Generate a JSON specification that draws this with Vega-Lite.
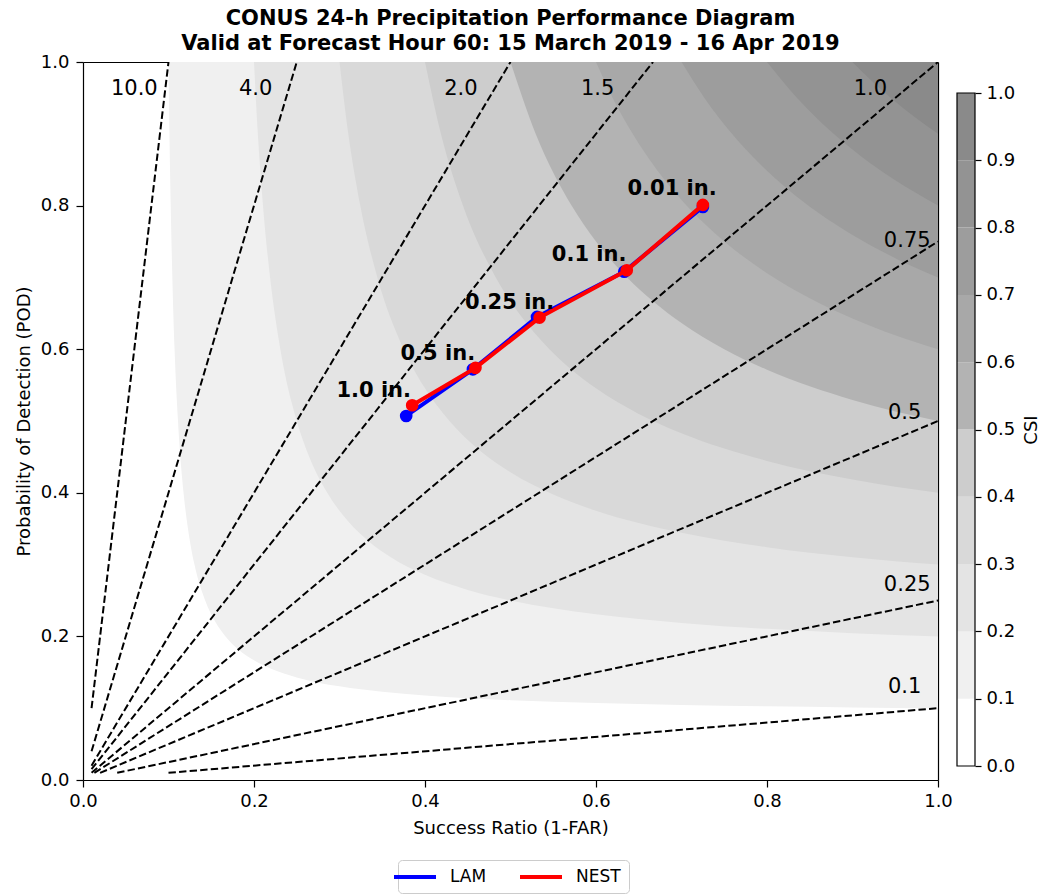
{
  "$schema": "https://vega.github.io/schema/vega-lite/v6.json",
  "background": "white",
  "padding": {"left": 15, "top": 8, "right": 5, "bottom": 0},
  "bounds": "flush",
  "spacing": 19,
  "config": {
    "font": "DejaVu Sans",
    "view": {"stroke": null},
    "axis": {
      "grid": false,
      "labelColor": "black",
      "titleColor": "black",
      "tickColor": "black",
      "domainColor": "black",
      "labelFontSize": 18,
      "titleFontSize": 18,
      "titleFontWeight": "normal",
      "labelFont": "DejaVu Sans",
      "titleFont": "DejaVu Sans",
      "tickSize": 7,
      "tickWidth": 1.2,
      "domainWidth": 1.2,
      "labelFlush": false,
      "labelOverlap": false,
      "zindex": 1
    }
  },
  "datasets": {
    "contours": [
      {"level": 0.1, "sr": 0.1, "pod": 1},
      {"level": 0.1, "sr": 0.1011, "pod": 0.9},
      {"level": 0.1, "sr": 0.1026, "pod": 0.8},
      {"level": 0.1, "sr": 0.1045, "pod": 0.7},
      {"level": 0.1, "sr": 0.1071, "pod": 0.6},
      {"level": 0.1, "sr": 0.1111, "pod": 0.5},
      {"level": 0.1, "sr": 0.1176, "pod": 0.4},
      {"level": 0.1, "sr": 0.1228, "pod": 0.35},
      {"level": 0.1, "sr": 0.1304, "pod": 0.3},
      {"level": 0.1, "sr": 0.1429, "pod": 0.25},
      {"level": 0.1, "sr": 0.1549, "pod": 0.22},
      {"level": 0.1, "sr": 0.1667, "pod": 0.2},
      {"level": 0.1, "sr": 0.1818, "pod": 0.1818},
      {"level": 0.1, "sr": 0.2, "pod": 0.1667},
      {"level": 0.1, "sr": 0.22, "pod": 0.1549},
      {"level": 0.1, "sr": 0.25, "pod": 0.1429},
      {"level": 0.1, "sr": 0.3, "pod": 0.1304},
      {"level": 0.1, "sr": 0.35, "pod": 0.1228},
      {"level": 0.1, "sr": 0.4, "pod": 0.1176},
      {"level": 0.1, "sr": 0.5, "pod": 0.1111},
      {"level": 0.1, "sr": 0.6, "pod": 0.1071},
      {"level": 0.1, "sr": 0.7, "pod": 0.1045},
      {"level": 0.1, "sr": 0.8, "pod": 0.1026},
      {"level": 0.1, "sr": 0.9, "pod": 0.1011},
      {"level": 0.1, "sr": 1, "pod": 0.1},
      {"level": 0.2, "sr": 0.2, "pod": 1},
      {"level": 0.2, "sr": 0.2045, "pod": 0.9},
      {"level": 0.2, "sr": 0.2105, "pod": 0.8},
      {"level": 0.2, "sr": 0.2188, "pod": 0.7},
      {"level": 0.2, "sr": 0.2308, "pod": 0.6},
      {"level": 0.2, "sr": 0.25, "pod": 0.5},
      {"level": 0.2, "sr": 0.2647, "pod": 0.45},
      {"level": 0.2, "sr": 0.2857, "pod": 0.4},
      {"level": 0.2, "sr": 0.3103, "pod": 0.36},
      {"level": 0.2, "sr": 0.3333, "pod": 0.3333},
      {"level": 0.2, "sr": 0.36, "pod": 0.3103},
      {"level": 0.2, "sr": 0.4, "pod": 0.2857},
      {"level": 0.2, "sr": 0.45, "pod": 0.2647},
      {"level": 0.2, "sr": 0.5, "pod": 0.25},
      {"level": 0.2, "sr": 0.6, "pod": 0.2308},
      {"level": 0.2, "sr": 0.7, "pod": 0.2188},
      {"level": 0.2, "sr": 0.8, "pod": 0.2105},
      {"level": 0.2, "sr": 0.9, "pod": 0.2045},
      {"level": 0.2, "sr": 1, "pod": 0.2},
      {"level": 0.3, "sr": 0.3, "pod": 1},
      {"level": 0.3, "sr": 0.3103, "pod": 0.9},
      {"level": 0.3, "sr": 0.3243, "pod": 0.8},
      {"level": 0.3, "sr": 0.3443, "pod": 0.7},
      {"level": 0.3, "sr": 0.375, "pod": 0.6},
      {"level": 0.3, "sr": 0.3976, "pod": 0.55},
      {"level": 0.3, "sr": 0.4286, "pod": 0.5},
      {"level": 0.3, "sr": 0.4615, "pod": 0.4615},
      {"level": 0.3, "sr": 0.5, "pod": 0.4286},
      {"level": 0.3, "sr": 0.55, "pod": 0.3976},
      {"level": 0.3, "sr": 0.6, "pod": 0.375},
      {"level": 0.3, "sr": 0.7, "pod": 0.3443},
      {"level": 0.3, "sr": 0.8, "pod": 0.3243},
      {"level": 0.3, "sr": 0.9, "pod": 0.3103},
      {"level": 0.3, "sr": 1, "pod": 0.3},
      {"level": 0.4, "sr": 0.4, "pod": 1},
      {"level": 0.4, "sr": 0.4186, "pod": 0.9},
      {"level": 0.4, "sr": 0.4444, "pod": 0.8},
      {"level": 0.4, "sr": 0.4828, "pod": 0.7},
      {"level": 0.4, "sr": 0.5098, "pod": 0.65},
      {"level": 0.4, "sr": 0.5455, "pod": 0.6},
      {"level": 0.4, "sr": 0.5714, "pod": 0.5714},
      {"level": 0.4, "sr": 0.6, "pod": 0.5455},
      {"level": 0.4, "sr": 0.65, "pod": 0.5098},
      {"level": 0.4, "sr": 0.7, "pod": 0.4828},
      {"level": 0.4, "sr": 0.8, "pod": 0.4444},
      {"level": 0.4, "sr": 0.9, "pod": 0.4186},
      {"level": 0.4, "sr": 1, "pod": 0.4},
      {"level": 0.5, "sr": 0.5, "pod": 1},
      {"level": 0.5, "sr": 0.5294, "pod": 0.9},
      {"level": 0.5, "sr": 0.5714, "pod": 0.8},
      {"level": 0.5, "sr": 0.6, "pod": 0.75},
      {"level": 0.5, "sr": 0.6364, "pod": 0.7},
      {"level": 0.5, "sr": 0.6667, "pod": 0.6667},
      {"level": 0.5, "sr": 0.7, "pod": 0.6364},
      {"level": 0.5, "sr": 0.75, "pod": 0.6},
      {"level": 0.5, "sr": 0.8, "pod": 0.5714},
      {"level": 0.5, "sr": 0.9, "pod": 0.5294},
      {"level": 0.5, "sr": 1, "pod": 0.5},
      {"level": 0.6, "sr": 0.6, "pod": 1},
      {"level": 0.6, "sr": 0.6195, "pod": 0.95},
      {"level": 0.6, "sr": 0.6429, "pod": 0.9},
      {"level": 0.6, "sr": 0.6711, "pod": 0.85},
      {"level": 0.6, "sr": 0.7059, "pod": 0.8},
      {"level": 0.6, "sr": 0.75, "pod": 0.75},
      {"level": 0.6, "sr": 0.8, "pod": 0.7059},
      {"level": 0.6, "sr": 0.85, "pod": 0.6711},
      {"level": 0.6, "sr": 0.9, "pod": 0.6429},
      {"level": 0.6, "sr": 0.95, "pod": 0.6195},
      {"level": 0.6, "sr": 1, "pod": 0.6},
      {"level": 0.7, "sr": 0.7, "pod": 1},
      {"level": 0.7, "sr": 0.7268, "pod": 0.95},
      {"level": 0.7, "sr": 0.759, "pod": 0.9},
      {"level": 0.7, "sr": 0.79, "pod": 0.86},
      {"level": 0.7, "sr": 0.8235, "pod": 0.8235},
      {"level": 0.7, "sr": 0.86, "pod": 0.79},
      {"level": 0.7, "sr": 0.9, "pod": 0.759},
      {"level": 0.7, "sr": 0.95, "pod": 0.7268},
      {"level": 0.7, "sr": 1, "pod": 0.7},
      {"level": 0.8, "sr": 0.8, "pod": 1},
      {"level": 0.8, "sr": 0.8352, "pod": 0.95},
      {"level": 0.8, "sr": 0.8598, "pod": 0.92},
      {"level": 0.8, "sr": 0.8889, "pod": 0.8889},
      {"level": 0.8, "sr": 0.92, "pod": 0.8598},
      {"level": 0.8, "sr": 0.95, "pod": 0.8352},
      {"level": 0.8, "sr": 1, "pod": 0.8},
      {"level": 0.9, "sr": 0.9, "pod": 1},
      {"level": 0.9, "sr": 0.9257, "pod": 0.97},
      {"level": 0.9, "sr": 0.9474, "pod": 0.9474},
      {"level": 0.9, "sr": 0.97, "pod": 0.9257},
      {"level": 0.9, "sr": 1, "pod": 0.9}
    ],
    "bias": [
      {"bias": 10, "sr": 0.01, "pod": 0.1},
      {"bias": 10, "sr": 0.1, "pod": 1},
      {"bias": 4, "sr": 0.01, "pod": 0.04},
      {"bias": 4, "sr": 0.25, "pod": 1},
      {"bias": 2, "sr": 0.01, "pod": 0.02},
      {"bias": 2, "sr": 0.5, "pod": 1},
      {"bias": 1.5, "sr": 0.01, "pod": 0.015},
      {"bias": 1.5, "sr": 0.6667, "pod": 1},
      {"bias": 1, "sr": 0.01, "pod": 0.01},
      {"bias": 1, "sr": 1, "pod": 1},
      {"bias": 0.75, "sr": 0.0133, "pod": 0.01},
      {"bias": 0.75, "sr": 1, "pod": 0.75},
      {"bias": 0.5, "sr": 0.02, "pod": 0.01},
      {"bias": 0.5, "sr": 1, "pod": 0.5},
      {"bias": 0.25, "sr": 0.04, "pod": 0.01},
      {"bias": 0.25, "sr": 1, "pod": 0.25},
      {"bias": 0.1, "sr": 0.1, "pod": 0.01},
      {"bias": 0.1, "sr": 1, "pod": 0.1}
    ],
    "biasLabels": [
      {"label": "10.0", "sr": 0.06, "pod": 0.962},
      {"label": "4.0", "sr": 0.202, "pod": 0.962},
      {"label": "2.0", "sr": 0.442, "pod": 0.962},
      {"label": "1.5", "sr": 0.602, "pod": 0.962},
      {"label": "1.0", "sr": 0.921, "pod": 0.962},
      {"label": "0.75", "sr": 0.964, "pod": 0.751},
      {"label": "0.5", "sr": 0.961, "pod": 0.511},
      {"label": "0.25", "sr": 0.964, "pod": 0.272},
      {"label": "0.1", "sr": 0.961, "pod": 0.13}
    ],
    "scores": [
      {"model": "LAM", "thresh": "1.0 in.", "sr": 0.378, "pod": 0.507},
      {"model": "LAM", "thresh": "0.5 in.", "sr": 0.456, "pod": 0.572},
      {"model": "LAM", "thresh": "0.25 in.", "sr": 0.531, "pod": 0.645},
      {"model": "LAM", "thresh": "0.1 in.", "sr": 0.633, "pod": 0.708},
      {"model": "LAM", "thresh": "0.01 in.", "sr": 0.725, "pod": 0.798},
      {"model": "NEST", "thresh": "1.0 in.", "sr": 0.385, "pod": 0.522},
      {"model": "NEST", "thresh": "0.5 in.", "sr": 0.459, "pod": 0.574},
      {"model": "NEST", "thresh": "0.25 in.", "sr": 0.534, "pod": 0.644},
      {"model": "NEST", "thresh": "0.1 in.", "sr": 0.636, "pod": 0.71},
      {"model": "NEST", "thresh": "0.01 in.", "sr": 0.725, "pod": 0.801}
    ],
    "threshLabels": [
      {"label": "1.0 in.", "sr": 0.34, "pod": 0.542},
      {"label": "0.5 in.", "sr": 0.415, "pod": 0.594},
      {"label": "0.25 in.", "sr": 0.499, "pod": 0.664},
      {"label": "0.1 in.", "sr": 0.592, "pod": 0.731},
      {"label": "0.01 in.", "sr": 0.689, "pod": 0.823}
    ],
    "bands": [
      {"lo": 0, "hi": 0.1},
      {"lo": 0.1, "hi": 0.2},
      {"lo": 0.2, "hi": 0.3},
      {"lo": 0.3, "hi": 0.4},
      {"lo": 0.4, "hi": 0.5},
      {"lo": 0.5, "hi": 0.6},
      {"lo": 0.6, "hi": 0.7},
      {"lo": 0.7, "hi": 0.8},
      {"lo": 0.8, "hi": 0.9},
      {"lo": 0.9, "hi": 1.0}
    ]
  },
  "hconcat": [
    {
      "width": 855,
      "height": 718,
      "title": {
        "text": ["CONUS 24-h Precipitation Performance Diagram", "Valid at Forecast Hour 60: 15 March 2019 - 16 Apr 2019"],
        "font": "DejaVu Sans",
        "fontSize": 21,
        "fontWeight": "bold",
        "lineHeight": 25,
        "color": "black",
        "anchor": "middle",
        "offset": -1
      },
      "layer": [
        {
          "data": {"name": "contours"},
          "mark": {"type": "area", "interpolate": "monotone", "clip": true},
          "encoding": {
            "x": {"field": "sr", "type": "quantitative", "scale": {"domain": [0, 1], "nice": false, "zero": false},
                  "axis": {"orient": "bottom", "values": [0, 0.2, 0.4, 0.6, 0.8, 1.0], "format": ".1f", "title": "Success Ratio (1-FAR)", "labelPadding": 5, "titlePadding": 9}},
            "y": {"field": "pod", "type": "quantitative", "stack": null, "scale": {"domain": [0, 1], "nice": false, "zero": false},
                  "axis": {"orient": "left", "values": [0, 0.2, 0.4, 0.6, 0.8, 1.0], "format": ".1f", "title": "Probability of Detection (POD)", "labelPadding": 7, "titlePadding": 7}},
            "y2": {"datum": 1},
            "fill": {"field": "level", "type": "ordinal",
                     "scale": {"domain": [0.1, 0.2, 0.3, 0.4, 0.5, 0.6, 0.7, 0.8, 0.9],
                               "range": ["#f0f0f0", "#e4e4e4", "#d9d9d9", "#cdcdcd", "#b3b3b3", "#a8a8a8", "#9d9d9d", "#939393", "#8a8a8a"]},
                     "legend": null}
          }
        },
        {
          "data": {"name": "bias"},
          "mark": {"type": "line", "color": "black", "strokeWidth": 2, "strokeDash": [7.4, 3.2], "clip": true},
          "encoding": {
            "x": {"field": "sr", "type": "quantitative", "axis": null},
            "y": {"field": "pod", "type": "quantitative", "axis": null},
            "detail": {"field": "bias", "type": "nominal"}
          }
        },
        {
          "data": {"name": "biasLabels"},
          "mark": {"type": "text", "fontSize": 21, "font": "DejaVu Sans", "color": "black", "align": "center", "baseline": "middle"},
          "encoding": {
            "x": {"field": "sr", "type": "quantitative", "axis": null},
            "y": {"field": "pod", "type": "quantitative", "axis": null},
            "text": {"field": "label", "type": "nominal"}
          }
        },
        {
          "data": {"name": "scores"},
          "transform": [{"filter": "datum.model === 'LAM'"}],
          "mark": {"type": "line", "strokeWidth": 4},
          "encoding": {
            "x": {"field": "sr", "type": "quantitative", "axis": null},
            "y": {"field": "pod", "type": "quantitative", "axis": null},
            "order": {"field": "sr", "type": "quantitative"},
            "color": {"field": "model", "type": "nominal",
                      "scale": {"domain": ["LAM", "NEST"], "range": ["#0000ff", "#ff0000"]},
                      "legend": {"title": null, "orient": "none", "legendX": 315, "legendY": 798, "direction": "horizontal",
                                 "symbolType": "M-3,0H3", "symbolStrokeWidth": 4, "symbolSize": 196,
                                 "labelFontSize": 17, "labelFont": "DejaVu Sans", "labelColor": "black", "labelOffset": 26,
                                 "columnPadding": 25, "padding": 8, "strokeColor": "#cccccc", "fillColor": "white", "cornerRadius": 4}}
          }
        },
        {
          "data": {"name": "scores"},
          "transform": [{"filter": "datum.model === 'LAM'"}],
          "mark": {"type": "point", "filled": true, "opacity": 1, "size": 160},
          "encoding": {
            "x": {"field": "sr", "type": "quantitative", "axis": null},
            "y": {"field": "pod", "type": "quantitative", "axis": null},
            "color": {"field": "model", "type": "nominal"}
          }
        },
        {
          "data": {"name": "scores"},
          "transform": [{"filter": "datum.model === 'NEST'"}],
          "mark": {"type": "line", "strokeWidth": 4},
          "encoding": {
            "x": {"field": "sr", "type": "quantitative", "axis": null},
            "y": {"field": "pod", "type": "quantitative", "axis": null},
            "order": {"field": "sr", "type": "quantitative"},
            "color": {"field": "model", "type": "nominal"}
          }
        },
        {
          "data": {"name": "scores"},
          "transform": [{"filter": "datum.model === 'NEST'"}],
          "mark": {"type": "point", "filled": true, "opacity": 1, "size": 160},
          "encoding": {
            "x": {"field": "sr", "type": "quantitative", "axis": null},
            "y": {"field": "pod", "type": "quantitative", "axis": null},
            "color": {"field": "model", "type": "nominal"}
          }
        },
        {
          "data": {"name": "threshLabels"},
          "mark": {"type": "text", "fontSize": 21, "fontWeight": "bold", "font": "DejaVu Sans", "color": "black", "align": "center", "baseline": "middle"},
          "encoding": {
            "x": {"field": "sr", "type": "quantitative",
                  "axis": {"orient": "top", "labels": false, "ticks": false, "title": null, "domain": true}},
            "y": {"field": "pod", "type": "quantitative",
                  "axis": {"orient": "right", "labels": false, "ticks": false, "title": null, "domain": true}},
            "text": {"field": "label", "type": "nominal"}
          }
        }
      ],
      "resolve": {"axis": {"x": "independent", "y": "independent"}}
    },
    {
      "width": 18,
      "height": 718,
      "data": {"name": "bands"},
      "layer": [
        {
          "mark": {"type": "rect"},
          "encoding": {
            "y": {"field": "lo", "type": "quantitative", "scale": {"domain": [-0.0208, 1.0461], "nice": false, "zero": false},
                  "axis": {"orient": "right", "values": [0, 0.1, 0.2, 0.3, 0.4, 0.5, 0.6, 0.7, 0.8, 0.9, 1.0], "format": ".1f",
                           "domain": false, "tickSize": 6, "labelPadding": 5, "title": "CSI", "titleAngle": 270, "titleBaseline": "top", "titlePadding": 8, "titleY": 367.5}},
            "y2": {"field": "hi"},
            "fill": {"field": "lo", "type": "ordinal",
                     "scale": {"domain": [0, 0.1, 0.2, 0.3, 0.4, 0.5, 0.6, 0.7, 0.8, 0.9],
                               "range": ["#ffffff", "#f0f0f0", "#e4e4e4", "#d9d9d9", "#cdcdcd", "#b3b3b3", "#a8a8a8", "#9d9d9d", "#939393", "#8a8a8a"]},
                     "legend": null}
          }
        },
        {
          "mark": {"type": "rect", "filled": false, "stroke": "black", "strokeWidth": 1.2},
          "encoding": {
            "y": {"aggregate": "min", "field": "lo", "type": "quantitative"},
            "y2": {"aggregate": "max", "field": "hi"}
          }
        }
      ]
    }
  ],
  "resolve": {"scale": {"fill": "independent", "y": "independent", "x": "independent", "color": "independent"}}
}
